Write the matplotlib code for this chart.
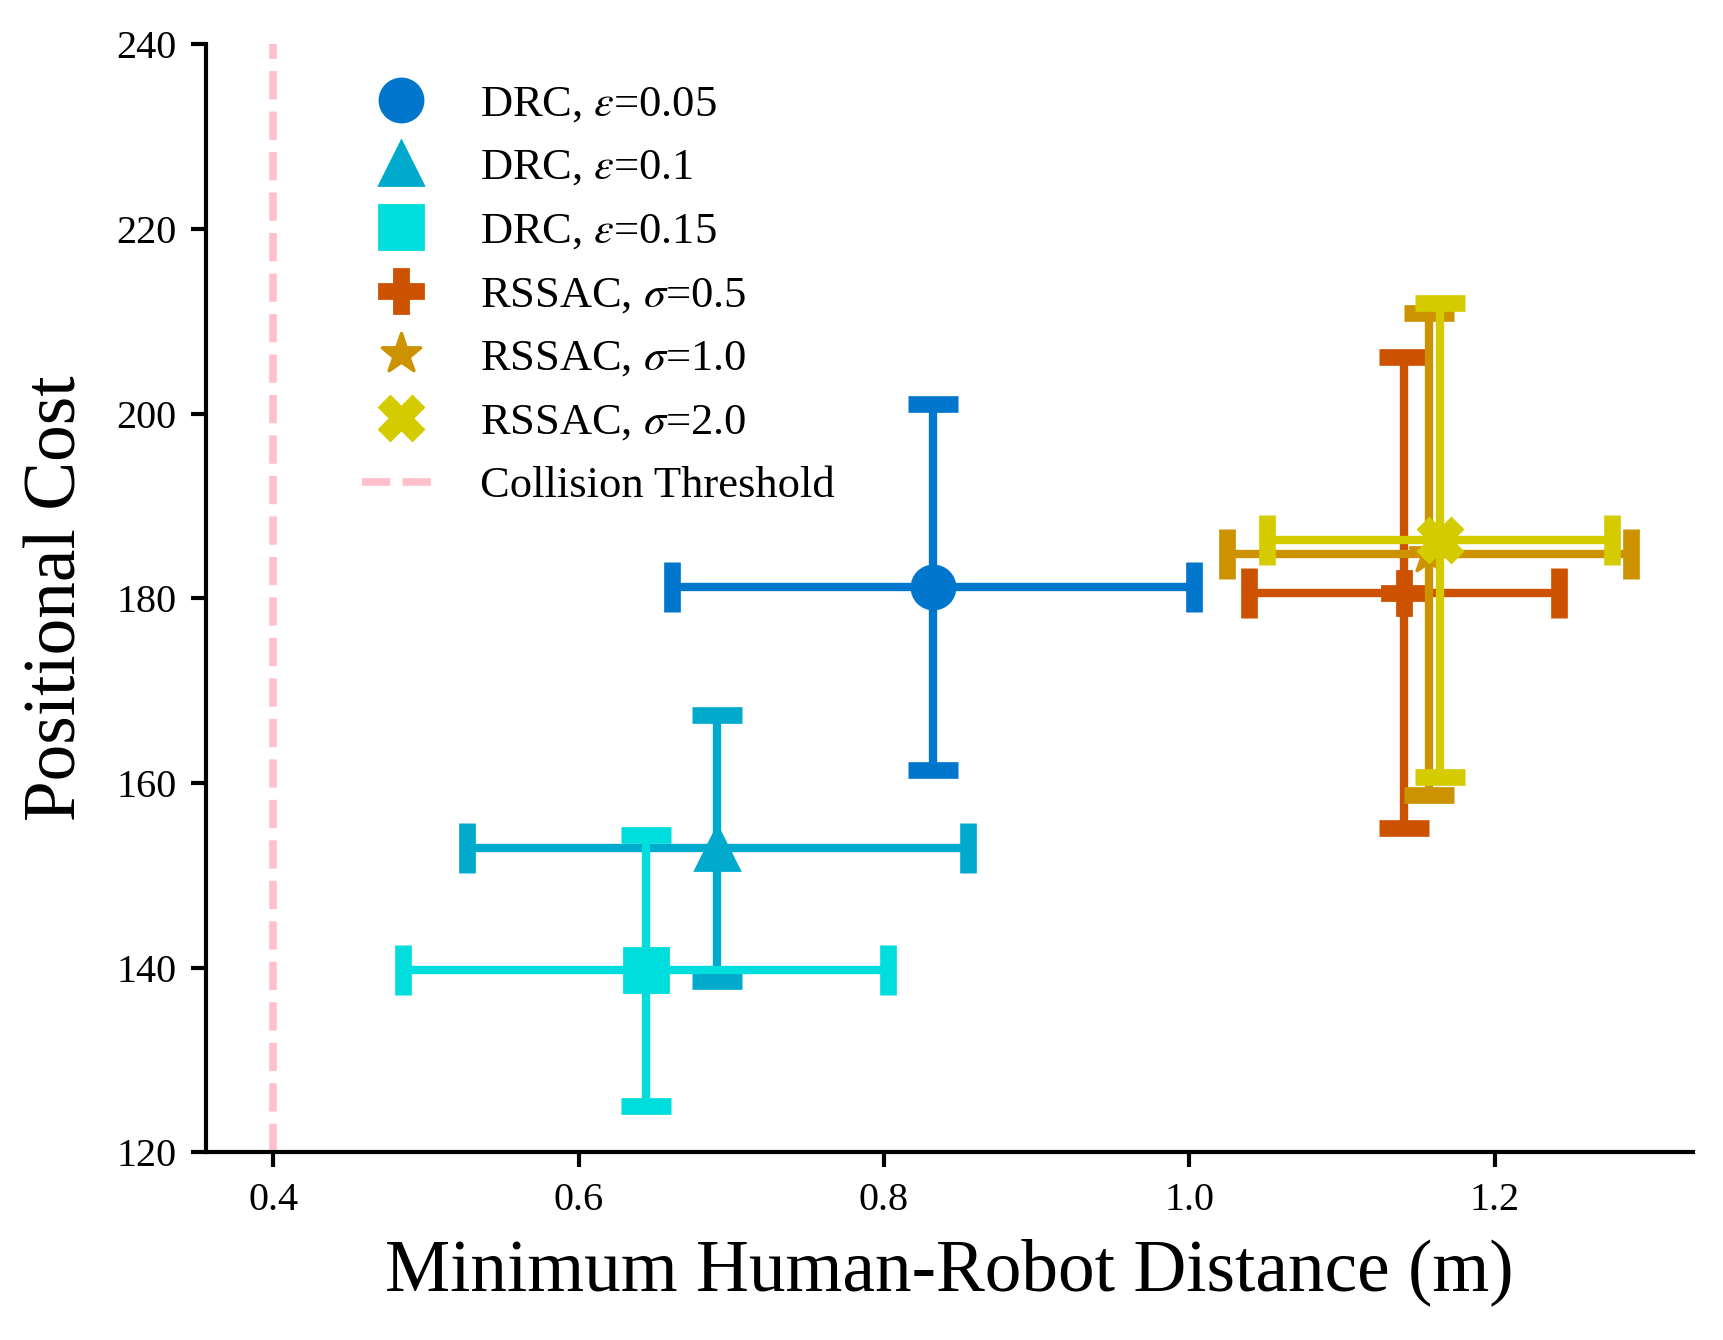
import numpy as np
import matplotlib
matplotlib.use("Agg")
import matplotlib.pyplot as plt

# fonts - serif look, math in stix
plt.rcParams['font.family'] = ['Liberation Serif', 'DejaVu Serif']
plt.rcParams['mathtext.fontset'] = 'stix'

# data (mean +- std)
labels = [r"DRC, $\varepsilon$=0.05", r"DRC, $\varepsilon$=0.1", r"DRC, $\varepsilon$=0.15",
          r"RSSAC, $\sigma$=0.5", r"RSSAC, $\sigma$=1.0", r"RSSAC, $\sigma$=2.0"]
dist_mean = [0.832, 0.691, 0.644, 1.141, 1.157, 1.164]
dist_std = [0.171, 0.164, 0.159, 0.1015, 0.1325, 0.113]
cost_mean = [181.2, 153.0, 139.7, 180.6, 184.8, 186.3]
cost_std = [19.8, 14.4, 14.7, 25.5, 26.1, 25.7]
collision_threshold = 0.4

colors = ['#0077CC', '#00AACC', '#00DDDD', '#CC5200', '#CC9200', '#D4CC00']
markers = ['o', '^', 's', 'P', '*', 'X']

fig = plt.figure(figsize=(8.62, 6.70), dpi=200)
ax = fig.add_subplot(111)
fig.subplots_adjust(left=0.1195, right=0.982, bottom=0.140, top=0.967)

for i in range(len(labels)):
    ax.errorbar(dist_mean[i], cost_mean[i], xerr=dist_std[i], yerr=cost_std[i],
                fmt='none', ecolor=colors[i], elinewidth=3, capsize=9, capthick=6)
    ax.plot(dist_mean[i], cost_mean[i], linestyle='none', marker=markers[i],
            markersize=15.5, color=colors[i], label=labels[i])

ax.axvline(collision_threshold, color='pink', linestyle='--', linewidth=2.75,
           label='Collision Threshold')

ax.set_xlim(0.356, 1.33)
ax.set_ylim(120, 240)
ax.set_xticks([0.4, 0.6, 0.8, 1.0, 1.2])
ax.set_yticks([120, 140, 160, 180, 200, 220, 240])

ax.set_xlabel("Minimum Human-Robot Distance (m)", fontsize=26.4, labelpad=7)
ax.set_ylabel("Positional Cost", fontsize=26.4, labelpad=9)

ax.spines['top'].set_visible(False)
ax.spines['right'].set_visible(False)
ax.spines['left'].set_linewidth(1.5)
ax.spines['bottom'].set_linewidth(1.5)
ax.tick_params(axis='both', labelsize=14.5, length=5.5, width=1.5, pad=5)

ax.legend(loc='upper left', bbox_to_anchor=(0.078, 1.0), frameon=False,
          fontsize=16, labelspacing=0.53, handlelength=1.75, handletextpad=0.9)

plt.savefig("out.png", dpi=200)
